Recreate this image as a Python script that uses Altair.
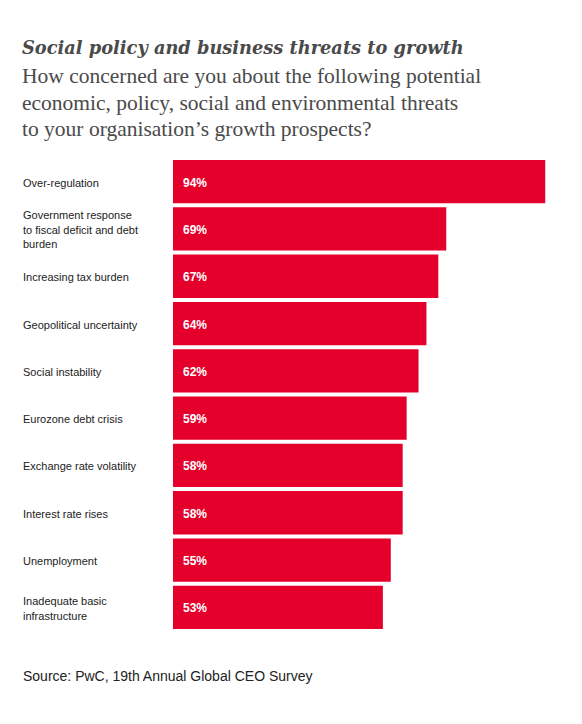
import altair as alt
import pandas as pd

threats = [
    "Over-regulation",
    "Government response\nto fiscal deficit and debt\nburden",
    "Increasing tax burden",
    "Geopolitical uncertainty",
    "Social instability",
    "Eurozone debt crisis",
    "Exchange rate volatility",
    "Interest rate rises",
    "Unemployment",
    "Inadequate basic\ninfrastructure",
]
shares = [94, 69, 67, 64, 62, 59, 58, 58, 55, 53]

title = "Social policy and business threats to growth"
subtitle = [
    "How concerned are you about the following potential",
    "economic, policy, social and environmental threats",
    "to your organisation\u2019s growth prospects?",
]
note = "Source: PwC, 19th Annual Global CEO Survey"

source = pd.DataFrame({"Threat": threats, "Share": shares})
source["Label"] = source.Share.astype(str) + "%"

y = alt.Y(
    "Threat:N",
    sort=threats,
    axis=None,
    scale=alt.Scale(paddingInner=0.085, paddingOuter=0.0425),
)

base = alt.Chart(source)

bars = base.mark_bar(color="#e4002b").encode(
    x=alt.X("Share:Q", axis=None, scale=alt.Scale(domain=[0, 100])),
    y=y,
)

values = base.mark_text(
    align="left",
    baseline="middle",
    dy=1,
    color="white",
    font="Liberation Sans",
    fontSize=12,
    fontWeight="bold",
).encode(x=alt.value(10), y=y, text="Label:N")

# centre wrapped labels on their bar (yOffset counts from the band start)
names = (
    base.transform_calculate(
        shift="23.65 - (length(split(datum.Threat, '\\n')) - 1) * 7.25"
    )
    .mark_text(
        align="left",
        baseline="middle",
        color="#222222",
        font="Liberation Sans",
        fontSize=11,
        lineBreak="\n",
        lineHeight=14.5,
    )
    .encode(
        x=alt.value(-150),
        y=y,
        yOffset=alt.YOffset("shift:Q", scale=None),
        text="Threat:N",
    )
)

footer = (
    alt.Chart(pd.DataFrame({"note": [note]}))
    .mark_text(
        align="left",
        baseline="middle",
        color="#222222",
        font="Liberation Sans",
        fontSize=14,
    )
    .encode(x=alt.value(-150), y=alt.value(519), text="note:N")
)

chart = (
    (bars + values + names + footer)
    .properties(
        width=396,
        height=473,
        autosize=alt.AutoSizeParams(type="none"),
        padding={"left": 165, "top": 150, "right": 5, "bottom": 85},
        background="white",
        title=alt.Title(
            title,
            subtitle=subtitle,
            anchor="start",
            dx=-1,
            offset=17.5,
            font="DejaVu Serif",
            fontSize=17.8,
            fontStyle="italic",
            fontWeight="bold",
            color="#4a4a4a",
            subtitleFont="Liberation Serif",
            subtitleFontSize=21.5,
            subtitleLineHeight=26.5,
            subtitleColor="#4a4a4a",
            subtitlePadding=8,
        ),
    )
    .configure_view(stroke=None)
)

chart.save("out.html", embed_options={"renderer": "svg", "actions": False})
